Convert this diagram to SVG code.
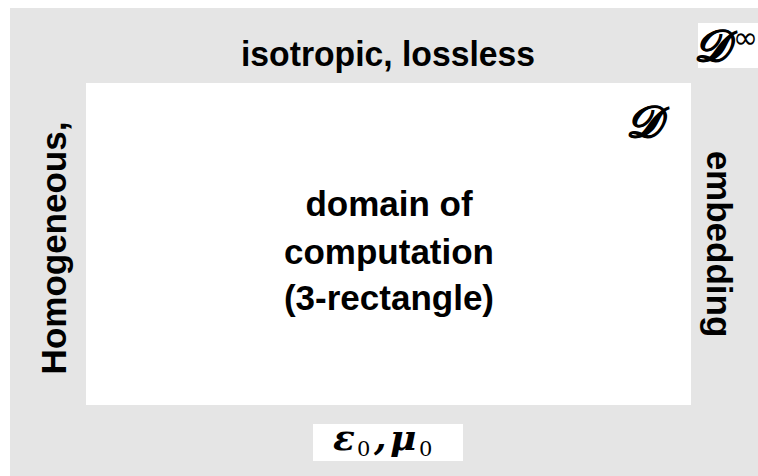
<svg xmlns="http://www.w3.org/2000/svg" width="758" height="476" viewBox="0 0 758 476">
  <style>
    .lbl { font-family: "Liberation Sans", Arial, sans-serif; font-weight: bold; font-size: 35px; fill: #000; text-anchor: middle; }
    .cal { font-family: "DejaVu Serif", "Liberation Serif", serif; font-style: italic; font-weight: bold; font-size: 44px; fill: #000; stroke: #000; stroke-width: 0.9px; }
    .mi { font-family: "DejaVu Serif", "Liberation Serif", serif; font-style: italic; font-weight: bold; font-size: 36px; fill: #000; }
    .sub { font-family: "DejaVu Serif", "Liberation Serif", serif; font-size: 21px; fill: #000; }
    .inf { font-family: "DejaVu Sans", sans-serif; font-size: 30px; fill: #000; }
  </style>
  <g id="embedding-space">
    <rect x="10" y="8" width="748" height="468" fill="#e5e5e5"/>
    <text class="lbl" x="388" y="66" textLength="294" lengthAdjust="spacingAndGlyphs">isotropic, lossless</text>
    <text class="lbl" transform="translate(66,248) rotate(-90)">Homogeneous,</text>
    <text class="lbl" transform="translate(707,244) rotate(90)">embedding</text>
  </g>
  <g id="d-infinity">
    <rect x="698" y="23" width="60" height="45" fill="#fff"/>
    <text class="cal" x="694" y="61">𝒟</text>
    <text class="inf" x="733" y="48">∞</text>
  </g>
  <g id="domain">
    <rect x="86" y="83" width="605" height="322" fill="#fff"/>
    <text class="lbl" x="389" y="216">domain of</text>
    <text class="lbl" x="389" y="264">computation</text>
    <text class="lbl" x="389" y="310">(3-rectangle)</text>
    <text class="cal" x="626" y="137">𝒟</text>
  </g>
  <g id="material">
    <rect x="313" y="424" width="150" height="37" fill="#fff"/>
    <text class="mi" x="333" y="450">ε</text>
    <text class="sub" x="357" y="456">0</text>
    <text class="mi" x="374" y="450">,</text>
    <text class="mi" x="390" y="450">μ</text>
    <text class="sub" x="419" y="456">0</text>
  </g>
  <g id="connectors"/>
</svg>
